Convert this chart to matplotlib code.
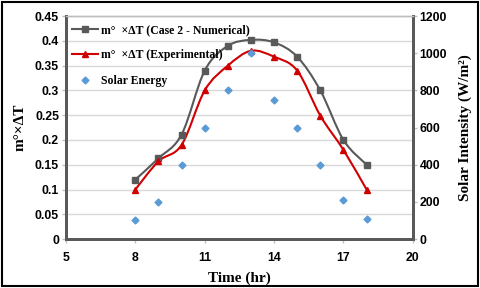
import matplotlib
matplotlib.use('Agg')
import matplotlib.pyplot as plt
import numpy as np
from matplotlib.path import Path
from matplotlib.patches import PathPatch, Rectangle
from matplotlib.lines import Line2D

# data
hours = [8, 9, 10, 11, 12, 13, 14, 15, 16, 17, 18]
numerical = [0.12, 0.163, 0.211, 0.34, 0.39, 0.402, 0.397, 0.368, 0.30, 0.20, 0.15]
experimental = [0.10, 0.157, 0.19, 0.30, 0.35, 0.38, 0.368, 0.34, 0.249, 0.18, 0.10]
solar = [100, 200, 400, 600, 800, 1000, 750, 600, 400, 210, 110]

x_ticks = [5, 8, 11, 14, 17, 20]
left_ticks = [0, 0.05, 0.1, 0.15, 0.2, 0.25, 0.3, 0.35, 0.4, 0.45]
left_labels = ['0', '0.05', '0.1', '0.15', '0.2', '0.25', '0.3', '0.35', '0.4', '0.45']
right_ticks = [0, 200, 400, 600, 800, 1000, 1200]

GRAY = '#595959'
RED = '#D00000'
BLUE = '#5B9BD5'
serif = 'Liberation Serif'
sans = 'Liberation Sans'


def smooth_path(xs, ys):
    # Excel-like smoothed line: Catmull-Rom segments as cubic Beziers
    pts = np.column_stack([xs, ys]).astype(float)
    n = len(pts)
    verts = [pts[0]]
    codes = [Path.MOVETO]
    for i in range(n - 1):
        p0 = pts[i - 1] if i > 0 else pts[i]
        p1, p2 = pts[i], pts[i + 1]
        p3 = pts[i + 2] if i + 2 < n else pts[i + 1]
        c1 = p1 + (p2 - p0) / 6.0
        c2 = p2 - (p3 - p1) / 6.0
        verts += [c1, c2, p2]
        codes += [Path.CURVE4] * 3
    return Path(verts, codes)


fig = plt.figure(figsize=(4.8, 2.88), dpi=100)
fig.patches.append(Rectangle((0.005, 0.008), 0.99, 0.985, transform=fig.transFigure,
                             fill=False, edgecolor='black', linewidth=1.5))

ax = fig.add_axes([0.1375, 0.170, 0.7225, 0.774])
ax2 = ax.twinx()

ax.set_xlim(5, 20)
ax.set_ylim(0, 0.45)
ax2.set_ylim(0, 1200)

ax.set_yticks(left_ticks)
ax.set_yticklabels(left_labels)
ax.set_xticks(x_ticks)
ax2.set_yticks(right_ticks)
ax.grid(axis='y', color='#D9D9D9', linewidth=1)
ax.set_axisbelow(True)

ax.add_patch(PathPatch(smooth_path(hours, numerical), facecolor='none', edgecolor=GRAY, linewidth=1.5, zorder=3))
ax.plot(hours, numerical, linestyle='none', marker='s', markersize=5, color=GRAY, zorder=4)
ax.add_patch(PathPatch(smooth_path(hours, experimental), facecolor='none', edgecolor=RED, linewidth=1.5, zorder=3))
ax.plot(hours, experimental, linestyle='none', marker='^', markersize=5, color=RED, zorder=4)
ax2.plot(hours, solar, linestyle='none', marker='D', markersize=3.5, color=BLUE, zorder=4)

for a in (ax, ax2):
    for s in a.spines.values():
        s.set_color(GRAY)
        s.set_linewidth(2)
    a.spines['top'].set_color('#BFBFBF')
    a.spines['top'].set_linewidth(1)
    a.tick_params(length=3, width=1, color='#BFBFBF', direction='out', pad=2)

for lbl in ax.get_xticklabels() + ax.get_yticklabels() + ax2.get_yticklabels():
    lbl.set_fontfamily(sans)
    lbl.set_fontweight('bold')
    lbl.set_fontsize(8.8)
ax.tick_params(axis='x', pad=6)

ax.set_xlabel('Time (hr)', fontfamily=serif, fontweight='bold', fontsize=11, labelpad=6)
ax.set_ylabel('m°×ΔT', fontfamily=serif, fontweight='bold', fontsize=11, labelpad=6)
ax2.set_ylabel('Solar Intensity (W/m²)', fontfamily=serif, fontweight='bold', fontsize=11, labelpad=8)

handles = [
    Line2D([], [], color=GRAY, marker='s', markersize=5, linewidth=1.5),
    Line2D([], [], color=RED, marker='^', markersize=5, linewidth=1.5),
    Line2D([], [], color=BLUE, marker='D', markersize=3.5, linestyle='none'),
]
labels = ['m°  ×ΔT (Case 2 - Numerical)', 'm°  ×ΔT (Experimental)', 'Solar Energy']
leg = ax.legend(handles, labels, loc='upper left', bbox_to_anchor=(-0.005, 1.0), frameon=False,
                prop={'family': serif, 'weight': 'bold', 'size': 8.5},
                labelspacing=1.15, handlelength=2.2, handletextpad=0.3, borderaxespad=0.25)
leg.set_zorder(10)

fig.savefig('out.png', dpi=100)
